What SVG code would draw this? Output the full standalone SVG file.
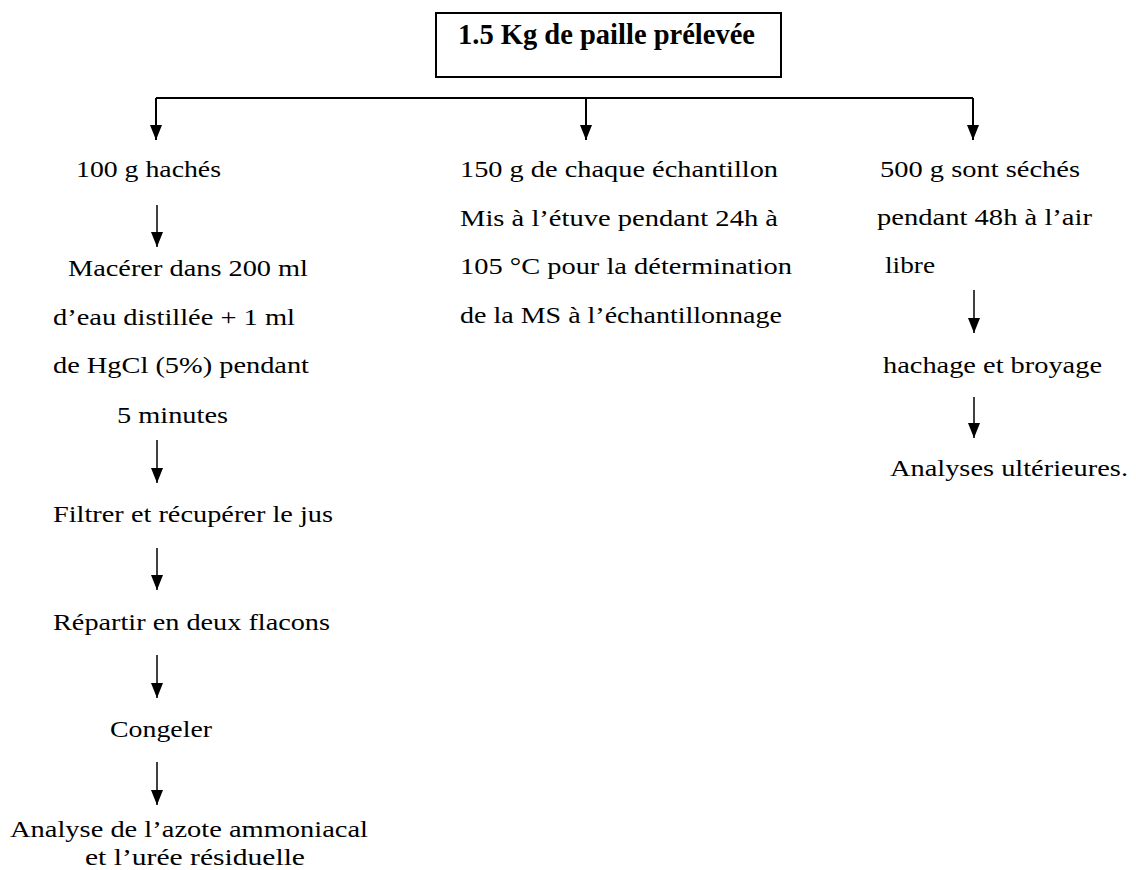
<svg xmlns="http://www.w3.org/2000/svg" width="1136" height="870" viewBox="0 0 1136 870">
<style>
text{font-family:"Liberation Serif","Times New Roman",serif;font-size:23px;fill:#000}
.title{font-weight:bold;font-size:30px}
.ln{stroke:#000;stroke-width:2;fill:none}
.thin{stroke:#000;stroke-width:1.5;fill:none}
</style>
<defs>
<marker id="ad" markerUnits="userSpaceOnUse" markerWidth="15" markerHeight="12" viewBox="0 0 15 12" refX="15" refY="6" orient="auto">
<path d="M0,0 L15,6 L0,12 Z" fill="#000"/>
</marker>
</defs>
<rect width="1136" height="870" fill="#fff"/>
<g id="root">
<rect x="436" y="13" width="345" height="64" fill="#fff" stroke="#000" stroke-width="2"/>
<text class="title" x="458" y="44" textLength="297" lengthAdjust="spacingAndGlyphs">1.5 Kg de paille prélevée</text>
</g>
<g id="connectors">
<path class="ln" d="M156,98 H973"/>
<path class="ln" d="M156,98 V140" marker-end="url(#ad)"/>
<path class="ln" d="M586,98 V140" marker-end="url(#ad)"/>
<path class="ln" d="M973,98 V140" marker-end="url(#ad)"/>
<path class="thin" d="M157,205 V247" marker-end="url(#ad)"/>
<path class="thin" d="M157,440 V483" marker-end="url(#ad)"/>
<path class="thin" d="M157,548 V590" marker-end="url(#ad)"/>
<path class="thin" d="M157,655 V698" marker-end="url(#ad)"/>
<path class="thin" d="M157,762 V805" marker-end="url(#ad)"/>
<path class="thin" d="M974,290 V333" marker-end="url(#ad)"/>
<path class="thin" d="M974,397 V438" marker-end="url(#ad)"/>
</g>
<g id="n-hache">
<text x="76" y="177" textLength="145" lengthAdjust="spacingAndGlyphs">100 g hachés</text>
</g>
<g id="n-macerer">
<text x="68" y="276" textLength="240" lengthAdjust="spacingAndGlyphs">Macérer dans 200 ml</text>
<text x="53" y="325" textLength="242" lengthAdjust="spacingAndGlyphs">d’eau distillée + 1 ml</text>
<text x="53" y="373" textLength="256" lengthAdjust="spacingAndGlyphs">de HgCl (5%) pendant</text>
<text x="117" y="423" textLength="111" lengthAdjust="spacingAndGlyphs">5 minutes</text>
</g>
<g id="n-filtrer">
<text x="53" y="522" textLength="280" lengthAdjust="spacingAndGlyphs">Filtrer et récupérer le jus</text>
</g>
<g id="n-repartir">
<text x="53" y="630" textLength="277" lengthAdjust="spacingAndGlyphs">Répartir en deux flacons</text>
</g>
<g id="n-congeler">
<text x="110" y="737" textLength="102" lengthAdjust="spacingAndGlyphs">Congeler</text>
</g>
<g id="n-analyse-azote">
<text x="10" y="837" textLength="358" lengthAdjust="spacingAndGlyphs">Analyse de l’azote ammoniacal</text>
<text x="85" y="865" textLength="220" lengthAdjust="spacingAndGlyphs">et l’urée résiduelle</text>
</g>
<g id="n-ms">
<text x="460" y="177" textLength="318" lengthAdjust="spacingAndGlyphs">150 g de chaque échantillon</text>
<text x="460" y="226" textLength="318" lengthAdjust="spacingAndGlyphs">Mis à l’étuve pendant 24h à</text>
<text x="460" y="274" textLength="332" lengthAdjust="spacingAndGlyphs">105 °C pour la détermination</text>
<text x="460" y="323" textLength="322" lengthAdjust="spacingAndGlyphs">de la MS à l’échantillonnage</text>
</g>
<g id="n-seche">
<text x="880" y="177" textLength="200" lengthAdjust="spacingAndGlyphs">500 g sont séchés</text>
<text x="877" y="225" textLength="215" lengthAdjust="spacingAndGlyphs">pendant 48h à l’air</text>
<text x="885" y="273" textLength="50" lengthAdjust="spacingAndGlyphs">libre</text>
</g>
<g id="n-broyage">
<text x="883" y="373" textLength="219" lengthAdjust="spacingAndGlyphs">hachage et broyage</text>
</g>
<g id="n-ulterieures">
<text x="890" y="476" textLength="238" lengthAdjust="spacingAndGlyphs">Analyses ultérieures.</text>
</g>
</svg>
